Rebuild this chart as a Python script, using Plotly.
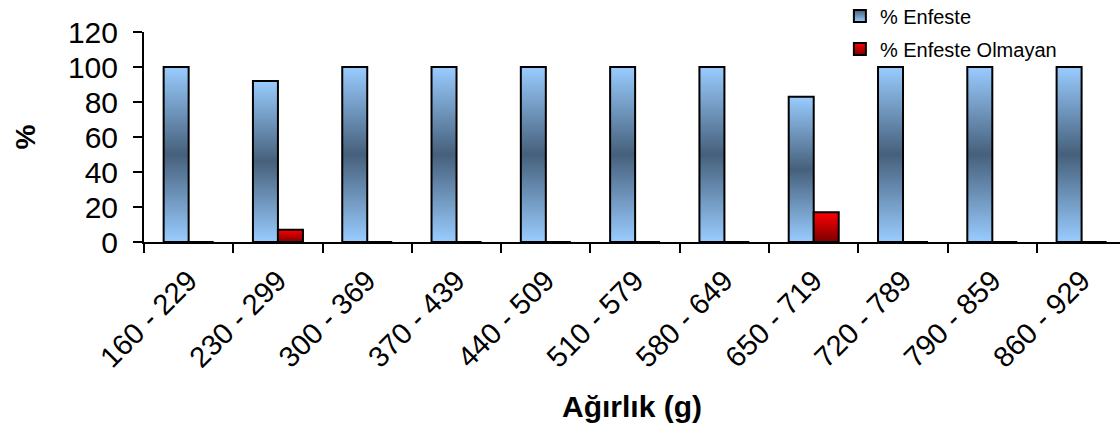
import plotly.graph_objects as go

# Weight classes (g) and share of infested / non-infested fruit (%)
categories = ["160 - 229", "230 - 299", "300 - 369", "370 - 439", "440 - 509",
              "510 - 579", "580 - 649", "650 - 719", "720 - 789", "790 - 859",
              "860 - 929"]
enfeste = [100, 92, 100, 100, 100, 100, 100, 83, 100, 100, 100]
enfeste_olmayan = [0, 7, 0, 0, 0, 0, 0, 17, 0, 0, 0]
y_ticks = [0, 20, 40, 60, 80, 100, 120]

FONT = "Liberation Sans, Arial, sans-serif"
BAR_W = 0.28  # width of each bar in category units

BLUE_SCALE = [[0, "#99CCFF"], [0.5, "#46607B"], [1, "#99CCFF"]]
RED_SCALE = [[0, "#7A0000"], [1, "#FF0000"]]

fig = go.Figure()


def add_bar(i, value, side, scale, legend_name):
    """Draw one bar as a filled rectangle so it can carry a vertical gradient."""
    x0 = i - BAR_W if side == "left" else i
    x1 = x0 + BAR_W
    fig.add_trace(go.Scatter(
        x=[x0, x0, x1, x1, x0],
        y=[0, value, value, 0, 0],
        mode="lines",
        fill="toself",
        fillgradient=dict(type="vertical", colorscale=scale),
        line=dict(color="black", width=2),
        hoverinfo="skip",
        showlegend=False,
        legendgroup=legend_name,
    ))


for i, (a, b) in enumerate(zip(enfeste, enfeste_olmayan)):
    add_bar(i, a, "left", BLUE_SCALE, "% Enfeste")
    add_bar(i, b, "right", RED_SCALE, "% Enfeste Olmayan")

# Legend entries with small gradient squares
fig.add_trace(go.Scatter(
    x=[None], y=[None], mode="markers", name="% Enfeste",
    legendgroup="% Enfeste",
    marker=dict(symbol="square", size=9, color="#46607B",
                gradient=dict(type="vertical", color="#99CCFF"),
                line=dict(color="black", width=1.5)),
))
fig.add_trace(go.Scatter(
    x=[None], y=[None], mode="markers", name="% Enfeste Olmayan",
    legendgroup="% Enfeste Olmayan",
    marker=dict(symbol="square", size=9, color="#FF0000",
                gradient=dict(type="vertical", color="#7A0000"),
                line=dict(color="black", width=1.5)),
))

n = len(categories)
fig.update_layout(
    width=1120,
    height=434,
    margin=dict(l=144, r=0, t=32, b=192, autoexpand=False),
    paper_bgcolor="white",
    plot_bgcolor="white",
    font=dict(family=FONT, color="black"),
    showlegend=True,
    legend=dict(
        x=0.713, y=1.169, xanchor="left", yanchor="top",
        font=dict(size=20, family=FONT),
        bgcolor="rgba(0,0,0,0)",
        itemsizing="constant",
        tracegroupgap=4,
        itemwidth=30,
    ),
    xaxis=dict(
        range=[-0.5, n - 0.5 - 0.07],
        tickvals=list(range(n)),
        ticktext=categories,
        tickangle=-45,
        ticks="",
        ticklabelstandoff=8,
        showline=True, linecolor="black", linewidth=2,
        showgrid=False, zeroline=False,
        automargin=False,
        tickfont=dict(size=29, family=FONT),
        minor=dict(tickvals=[k - 0.5 for k in range(n + 1)], ticks="outside",
                   ticklen=9, tickwidth=1.5, tickcolor="black", showgrid=False),
        title=dict(text="<b>Ağırlık (g)</b>", font=dict(size=30, family=FONT),
                   standoff=24),
    ),
    yaxis=dict(
        range=[0, 120],
        tickvals=y_ticks,
        ticks="outside", ticklen=9, tickwidth=1.5, tickcolor="black",
        ticklabelstandoff=9,
        showline=True, linecolor="black", linewidth=2,
        showgrid=False, zeroline=False,
        automargin=False,
        tickfont=dict(size=30, family=FONT),
        title=dict(text="<b>%</b>", font=dict(size=28, family=FONT), standoff=24),
    ),
)

fig.write_html("out.html")
